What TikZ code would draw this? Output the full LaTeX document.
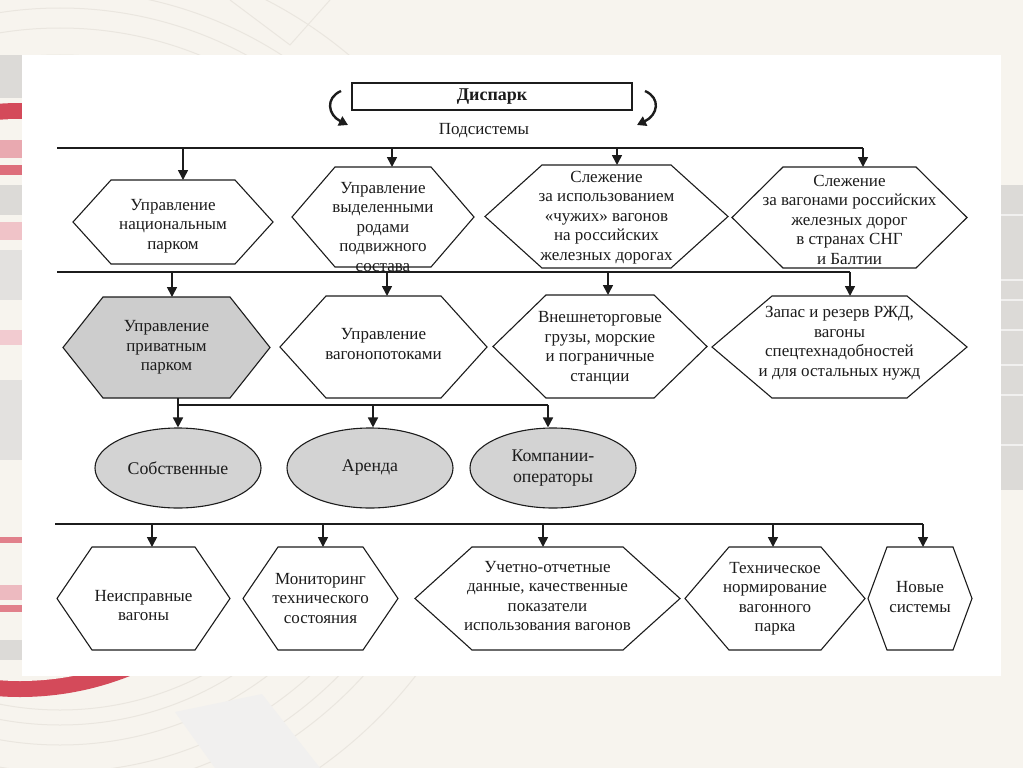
\documentclass[tikz,border=0pt]{standalone}
\usepackage{fontspec}
\setmainfont{Liberation Serif}
\usetikzlibrary{shapes.geometric,arrows.meta}
\definecolor{bgc}{HTML}{F7F4EE}
\definecolor{decoline}{HTML}{EAE6DF}
\definecolor{ringred}{HTML}{D44A5A}
\definecolor{ringpink}{HTML}{E9A9B0}
\definecolor{stripgray}{HTML}{DCDAD7}
\definecolor{hexgray}{HTML}{CDCDCD}
\definecolor{ellgray}{HTML}{D3D3D3}
\definecolor{ink}{HTML}{1C1C1C}
\tikzset{
  hexline/.style={line width=1.1pt, draw=ink, line join=miter},
  txt/.style={align=center, inner sep=0pt, text=ink, font=\fontsize{17}{19.5}\selectfont},
  bus/.style={line width=2.3pt, draw=ink},
  subbus/.style={line width=2pt, draw=ink},
  arr/.style={line width=1.6pt, draw=ink, -{Triangle[width=10pt,length=10pt]}},
  carr/.style={line width=2.4pt, draw=ink, -{Triangle[width=10pt,length=9pt]}},
  ellbox/.style={ellipse, draw=ink, line width=1.1pt, fill=ellgray, minimum width=166pt, minimum height=80pt, inner sep=0pt, align=center, text=ink, font=\fontsize{17.8}{21}\selectfont},
  deco/.style={draw=decoline, line width=1pt},
}
% name, cx, cy, half width, half height, inset, fill, text dy, text
\newcommand\hexn[9]{%
  \filldraw[hexline, fill=#7] (#2-#4,#3) -- (#2-#4+#6,#3-#5) -- (#2+#4-#6,#3-#5)
     -- (#2+#4,#3) -- (#2+#4-#6,#3+#5) -- (#2-#4+#6,#3+#5) -- cycle;
  \coordinate (#1-top) at (#2,#3-#5);
  \coordinate (#1-bot) at (#2,#3+#5);
  \node[txt] (#1) at (#2,#3+#8) {#9};
}
\begin{document}
\begin{tikzpicture}[x=1pt,y=-1pt]
\useasboundingbox (0,0) rectangle (1023,768);
% ---------- background ----------
\fill[bgc] (0,0) rectangle (1023,768);
\begin{scope}
  \clip (0,0) rectangle (1023,768);
  \fill[ringred] (20,400) circle[radius=297pt];
  \fill[bgc] (20,400) circle[radius=281pt];
  \foreach \r in {310,325,345,372,392,410,450}
    \draw[deco] (60,400) circle[radius=\r pt];
  \fill[stripgray!40] (175,712) -- (262,694) -- (320,768) -- (215,768) -- cycle;
  \draw[deco] (230,0) -- (290,45) -- (330,0);
\end{scope}
% left strips
\fill[stripgray] (0,55) rectangle (22,98);
\fill[ringpink] (0,140) rectangle (22,158);
\fill[ringred!80] (0,165) rectangle (22,175);
\fill[stripgray] (0,185) rectangle (22,215);
\fill[ringpink!70] (0,222) rectangle (22,240);
\fill[stripgray!80] (0,250) rectangle (22,300);
\fill[ringpink!60] (0,330) rectangle (22,345);
\fill[stripgray!80] (0,380) rectangle (22,460);
\fill[ringred!70] (0,537) rectangle (22,543);
\fill[ringpink!80] (0,585) rectangle (22,600);
\fill[ringred!70] (0,605) rectangle (22,612);
\fill[stripgray] (0,640) rectangle (22,660);
% right band
\fill[stripgray] (1001,185) rectangle (1023,490);
\foreach \yy in {215,280,300,330,365,395,445}
  \draw[white!60!stripgray, line width=1.5pt] (1001,\yy) -- (1023,\yy);
% white panel
\fill[white] (22,55) rectangle (1001,676);

% ---------- top ----------
\node[draw=ink, line width=1.1pt, minimum width=280pt, minimum height=27pt, inner sep=0pt,
      text=ink, font=\bfseries\fontsize{18}{20}\selectfont] (disp) at (492,96.5) {Диспарк};
\node[txt] (podsys) at (484,131) {Подсистемы};
\coordinate (cl1) at (341,91); \coordinate (cl2) at (348,125);
\draw[carr] (cl1) .. controls (325,98) and (328,115) .. (cl2);
\coordinate (cr1) at (645,91); \coordinate (cr2) at (637,125);
\draw[carr] (cr1) .. controls (661,98) and (658,115) .. (cr2);

% ---------- row 1 ----------
\hexn{h1}{173}{222}{100}{42}{38}{white}{4}{Управление\\национальным\\парком}
\hexn{h2}{383}{217}{91}{50}{43}{white}{10}{Управление\\выделенными\\родами\\подвижного\\состава}
\hexn{h3}{606.5}{216.5}{121.5}{51.5}{57}{white}{1}{Слежение\\за использованием\\«чужих» вагонов\\на российских\\железных дорогах}
\hexn{h4}{849.5}{217.5}{117.5}{50.5}{51}{white}{2}{Слежение\\за вагонами российских\\железных дорог\\в странах СНГ\\и Балтии}

\coordinate (b1L) at (57,148);
\coordinate (b1a) at (183,148);
\coordinate (b1b) at (392,148);
\coordinate (b1c) at (617,148);
\coordinate (b1d) at (863,148);
\draw[bus] (b1L) -- (b1d);
\draw[arr] (b1a) -- (b1a |- h1-top);
\draw[arr] (b1b) -- (b1b |- h2-top);
\draw[arr] (b1c) -- (b1c |- h3-top);
\draw[arr] (b1d) -- (b1d |- h4-top);

% ---------- row 2 ----------
\hexn{h5}{166.5}{347.5}{103.5}{50.5}{40}{hexgray}{0}{Управление\\приватным\\парком}
\hexn{h6}{383.5}{347}{103.5}{51}{46}{white}{-3}{Управление\\вагонопотоками}
\hexn{h7}{600}{346.5}{107}{51.5}{53}{white}{1.5}{Внешнеторговые\\грузы, морские\\и пограничные\\станции}
\hexn{h8}{839.5}{347}{127.5}{51}{60}{white}{-4}{Запас и резерв РЖД,\\вагоны\\спецтехнадобностей\\и для остальных нужд}

\coordinate (b2L) at (57,272);
\coordinate (b2a) at (172,272);
\coordinate (b2b) at (387,272);
\coordinate (b2c) at (608,272);
\coordinate (b2d) at (850,272);
\draw[bus] (b2L) -- (b2d);
\draw[arr] (b2a) -- (b2a |- h5-top);
\draw[arr] (b2b) -- (b2b |- h6-top);
\draw[arr] (b2c) -- (b2c |- h7-top);
\draw[arr] (b2d) -- (b2d |- h8-top);

% ---------- row 3 (ellipses) ----------
\node[ellbox] (e1) at (178,468) {Собственные};
\node[ellbox] (e2) at (370,468) {Аренда};
\node[ellbox] (e3) at (553,468) {Компании-\\операторы};
\coordinate (s1) at (178,405);
\coordinate (s2) at (373,405);
\coordinate (s3) at (548,405);
\draw[subbus] (s1 |- h5-bot) -- (s1) -- (s3);
\draw[arr] (s1) -- (s1 |- e1.north);
\draw[arr] (s2) -- (s2 |- e2.north);
\draw[arr] (s3) -- (s3 |- e3.north);

% ---------- row 4 ----------
\hexn{h9}{143.5}{598.5}{86.5}{51.5}{35}{white}{7}{Неисправные\\вагоны}
\hexn{h10}{320.5}{598.5}{77.5}{51.5}{35}{white}{0}{Мониторинг\\технического\\состояния}
\hexn{h11}{547.5}{598.5}{132.5}{51.5}{57}{white}{-2.5}{Учетно-отчетные\\данные, качественные\\показатели\\использования вагонов}
\hexn{h12}{775}{598.5}{90}{51.5}{44}{white}{0}{Техническое\\нормирование\\вагонного\\парка}
\hexn{h13}{920}{598.5}{52}{51.5}{19}{white}{-1.5}{Новые\\системы}

\coordinate (b4L) at (55,524);
\coordinate (b4a) at (152,524);
\coordinate (b4b) at (323,524);
\coordinate (b4c) at (543,524);
\coordinate (b4d) at (773,524);
\coordinate (b4e) at (923,524);
\draw[bus] (b4L) -- (b4e);
\draw[arr] (b4a) -- (b4a |- h9-top);
\draw[arr] (b4b) -- (b4b |- h10-top);
\draw[arr] (b4c) -- (b4c |- h11-top);
\draw[arr] (b4d) -- (b4d |- h12-top);
\draw[arr] (b4e) -- (b4e |- h13-top);
\end{tikzpicture}
\end{document}
